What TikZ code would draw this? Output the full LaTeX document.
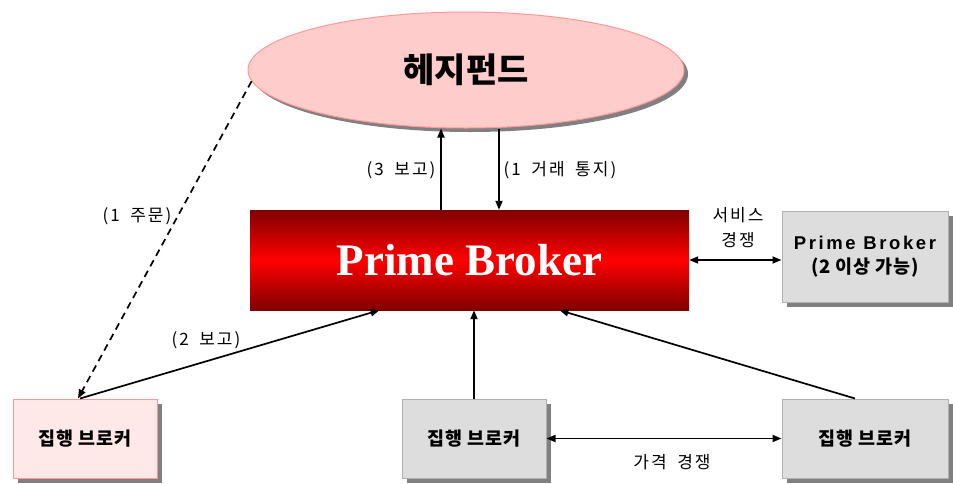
\documentclass[tikz,border=0pt]{standalone}
\usepackage{fontspec}
\setmainfont{Noto Sans CJK KR}
\newfontfamily\krsp[LetterSpace=12,WordSpace=1.8]{Noto Sans CJK KR}
\newfontfamily\krbox[LetterSpace=4]{Noto Sans CJK KR}
\newfontfamily\sansbox[LetterSpace=14]{Liberation Sans}
\newfontfamily\tms{Liberation Serif}
\usetikzlibrary{shapes.geometric,shadows,arrows.meta}
\definecolor{pinkfill}{HTML}{FFCCCC}
\definecolor{pinkline}{HTML}{FF9999}
\definecolor{lightpink}{HTML}{FFE8E8}
\definecolor{boxfill}{HTML}{DDDDDD}
\definecolor{boxline}{HTML}{B0B0B0}
\definecolor{shadowgray}{HTML}{808080}
\definecolor{pbdark}{HTML}{800000}
\begin{document}
\begin{tikzpicture}[x=1pt,y=-1pt,
  lbl/.style={font=\fontsize{17}{25}\selectfont\krsp, inner sep=0pt, align=center},
  shad/.style={drop shadow={shadow xshift=5pt, shadow yshift=-5pt, fill=shadowgray, opacity=1}},
  ell/.style={ellipse, draw=pinkline, fill=pinkfill, line width=1pt, minimum width=436pt, minimum height=116pt, inner sep=0pt,
    drop shadow={shadow xshift=4pt, shadow yshift=-4pt, fill=shadowgray, opacity=1},
    font=\fontsize{34}{40}\selectfont\bfseries},
  pbbox/.style={rectangle, minimum width=439pt, minimum height=100pt, inner sep=0pt,
    top color=pbdark, bottom color=pbdark, middle color=red, text=white,
    font=\fontsize{45}{50}\selectfont\tms\bfseries},
  gbox/.style={rectangle, draw=boxline, fill=boxfill, line width=1pt, minimum width=144pt, minimum height=79pt, inner sep=0pt, shad,
    font=\fontsize{18.5}{24}\selectfont\krbox\bfseries, align=center},
  pbox/.style={gbox, draw=pinkline, fill=lightpink},
  arr/.style={line width=1.7pt, -{Triangle[length=9pt,width=7pt]}},
  darr/.style={line width=1.7pt, {Triangle[length=9pt,width=7pt]}-{Triangle[length=9pt,width=7pt]}}
]
\useasboundingbox (0,0) rectangle (953,483);
\node[ell] (hf) at (466,70) {헤지펀드};
\node[pbbox] (pb) at (469.5,260) {Prime Broker};
\node[gbox, minimum width=166pt, minimum height=91pt] (pb2) at (865,256.5)
  {{\sansbox\bfseries Prime Broker}\\(2 이상 가능)};
\node[pbox] (eb1) at (85,438.5) {집행 브로커};
\node[gbox] (eb2) at (474,438.5) {집행 브로커};
\node[gbox, minimum width=166pt] (eb3) at (865,438.5) {집행 브로커};

\draw[arr] ([xshift=-28.5pt]pb.north) -- ([xshift=-28.5pt]pb.north |- hf.south);
\draw[arr] ([xshift=33pt]hf.south) -- ([xshift=33pt]hf.south |- pb.north);
\draw[darr] (pb.east) -- (pb.east -| pb2.west);
\draw[darr] (eb2.east) -- (eb3.west);
\draw[arr] (eb2.north) -- (eb2.north |- pb.south);
\draw[arr] ([xshift=-10pt]eb3.north) -- ([xshift=90pt]pb.south);
\draw[arr] ([xshift=-5pt]eb1.north) -- ([xshift=-90pt]pb.south);
\draw[arr, dash pattern=on 7pt off 5pt] (hf.183) -- ([xshift=-7pt]eb1.north);

\node[lbl] (lsvc) at (738,228) {서비스\\경쟁};
\node[lbl] (l3) at (401,170) {(3 보고)};
\node[lbl] (l1t) at (560,170) {(1 거래 통지)};
\node[lbl] (l1o) at (137,216) {(1 주문)};
\node[lbl] (l2) at (206,340) {(2 보고)};
\node[lbl] (lprice) at (672,462) {가격 경쟁};
\end{tikzpicture}
\end{document}
